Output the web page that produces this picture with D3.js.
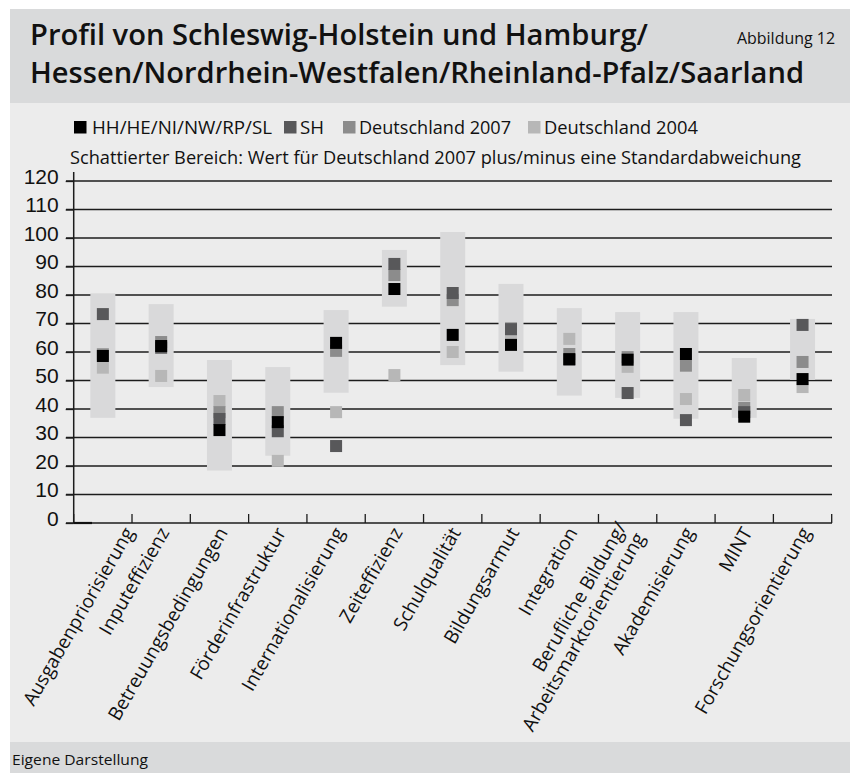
<!DOCTYPE html>
<html lang="de">
<head>
    <meta charset="UTF-8">
    <title>Profil von Schleswig-Holstein und Hamburg/Hessen/Nordrhein-Westfalen/Rheinland-Pfalz/Saarland</title>
    <script src="https://d3js.org/d3.v7.min.js"></script>
    <style>
        body { margin: 0; background: #fff; }
        svg { display: block; font-family: "Open Sans", "Noto Sans", sans-serif; }
        .grid line { stroke: #1c1c1c; stroke-width: 1.3; }
        .y-axis text { font-size: 21px; fill: #111; }
        .cat-label { font-size: 19px; fill: #111; }
    </style>
</head>
<body>
    <svg width="850" height="773"></svg>
    <script>
        // Kategorien (x-Achse)
        const categories = [
            "Ausgabenpriorisierung", "Inputeffizienz", "Betreuungsbedingungen",
            "Förderinfrastruktur", "Internationalisierung", "Zeiteffizienz",
            "Schulqualität", "Bildungsarmut", "Integration",
            "Berufliche Bildung/\nArbeitsmarktorientierung", "Akademisierung",
            "MINT", "Forschungsorientierung"
        ];

        // Werte je Reihe
        const hhValues   = [58.6, 62.1, 32.6, 35.4, 63.2, 82.1, 66.0, 62.5, 57.5, 57.3, 59.3, 37.3, 50.5];
        const shValues   = [73.3, 61.5, 36.5, 32.2, 27.0, 90.9, 80.7, 68.0, 57.3, 45.6, 36.1, 38.9, 69.5];
        const de2007     = [59.2, 63.5, 38.9, 38.9, 60.4, 87.0, 78.2, 68.3, 59.3, 58.2, 55.2, 40.4, 56.5];
        const de2004     = [54.5, 51.6, 42.8, 21.8, 38.9, 51.9, 60.0, 64.5, 64.6, 54.8, 43.5, 44.9, 47.7];

        // Schattierter Bereich: Deutschland 2007 +/- eine Standardabweichung
        const bandLow    = [36.9, 47.7, 18.4, 23.6, 45.7, 75.9, 55.4, 53.1, 44.7, 43.9, 36.6, 36.9, 50.2];
        const bandHigh   = [80.6, 76.8, 57.2, 54.7, 74.7, 95.8, 102.1, 83.9, 75.4, 74.0, 74.0, 57.9, 71.6];

        const yTicks = [0, 10, 20, 30, 40, 50, 60, 70, 80, 90, 100, 110, 120];

        const seriesNames  = ["HH/HE/NI/NW/RP/SL", "SH", "Deutschland 2007", "Deutschland 2004"];
        const seriesColors = ["#000000", "#58585a", "#8c8c8c", "#b7b7b7"];

        const svg = d3.select("svg");

        // Hintergrundflächen
        svg.append("rect").attr("x", 10).attr("y", 9).attr("width", 840).attr("height", 94).attr("fill", "#d9dadb");
        svg.append("rect").attr("x", 10).attr("y", 103).attr("width", 840).attr("height", 639).attr("fill", "#ececec");
        svg.append("rect").attr("x", 10).attr("y", 742).attr("width", 840).attr("height", 31).attr("fill", "#d9dadb");

        // Titel
        const title = svg.append("g").attr("font-weight", 600).attr("font-size", 28).attr("fill", "#111");
        title.append("text").attr("x", 30).attr("y", 45)
            .attr("textLength", 618).attr("lengthAdjust", "spacingAndGlyphs")
            .text("Profil von Schleswig-Holstein und Hamburg/");
        title.append("text").attr("x", 30).attr("y", 83)
            .attr("textLength", 774).attr("lengthAdjust", "spacingAndGlyphs")
            .text("Hessen/Nordrhein-Westfalen/Rheinland-Pfalz/Saarland");

        svg.append("text").attr("x", 835).attr("y", 44).attr("text-anchor", "end")
            .attr("font-size", 16).attr("fill", "#111")
            .attr("textLength", 98).attr("lengthAdjust", "spacingAndGlyphs")
            .text("Abbildung 12");

        // Legende
        const legendX = [74, 284, 343, 528];
        const legendW = [180, 24, 152, 154];
        const legend = svg.append("g").attr("font-size", 19).attr("fill", "#111");
        seriesNames.forEach((name, i) => {
            legend.append("rect")
                .attr("x", legendX[i]).attr("y", 121)
                .attr("width", 12.5).attr("height", 12.5)
                .attr("fill", seriesColors[i]);
            legend.append("text")
                .attr("x", legendX[i] + (i === 0 ? 18 : 16)).attr("y", 134)
                .attr("textLength", legendW[i]).attr("lengthAdjust", "spacingAndGlyphs")
                .text(name);
        });
        legend.append("text").attr("x", 70).attr("y", 164)
            .attr("textLength", 731).attr("lengthAdjust", "spacingAndGlyphs")
            .text("Schattierter Bereich: Wert für Deutschland 2007 plus/minus eine Standardabweichung");

        // Skalen
        const x = d3.scaleBand().domain(categories).range([73.7, 831.7]);
        const y = d3.scaleLinear().domain([0, 120]).range([523, 181]);

        // Gitternetz
        svg.append("g").attr("class", "grid")
            .selectAll("line").data(yTicks).join("line")
            .attr("x1", 66).attr("x2", 832)
            .attr("y1", d => y(d)).attr("y2", d => y(d));

        // y-Achse
        const yAxis = svg.append("g").attr("class", "y-axis")
            .attr("transform", "translate(73.7,0)")
            .call(d3.axisLeft(y).tickValues(yTicks).tickSize(8).tickPadding(7));
        yAxis.select(".domain").remove();
        yAxis.selectAll(".tick line").attr("stroke", "#1c1c1c").attr("stroke-width", 1.3);
        yAxis.selectAll(".tick text").attr("dy", "0.1em");
        svg.append("line").attr("x1", 73.7).attr("x2", 73.7)
            .attr("y1", 172).attr("y2", 523)
            .attr("stroke", "#1c1c1c").attr("stroke-width", 1.5);

        // x-Achse: Trennstriche zwischen den Kategorien
        const bounds = d3.range(categories.length + 1).map(i => x.range()[0] + i * x.step());
        svg.append("g").selectAll("line").data(bounds).join("line")
            .attr("x1", d => d).attr("x2", d => d)
            .attr("y1", 514).attr("y2", 523)
            .attr("stroke", "#1c1c1c").attr("stroke-width", 1.3);
        svg.append("line").attr("x1", 73.7).attr("x2", 92).attr("y1", 523).attr("y2", 523)
            .attr("stroke", "#111").attr("stroke-width", 2.2);

        // Bänder
        const bandW = 25;
        svg.append("g").selectAll("rect").data(categories).join("rect")
            .attr("x", d => x(d) + x.bandwidth() / 2 - bandW / 2)
            .attr("width", bandW)
            .attr("y", (d, i) => y(bandHigh[i]))
            .attr("height", (d, i) => y(bandLow[i]) - y(bandHigh[i]))
            .attr("fill", "#d9d9da");

        // Marker (Reihenfolge: 2004, 2007, SH, HH oben)
        const markerSize = 12;
        const drawOrder = [[de2004, 3], [de2007, 2], [shValues, 1], [hhValues, 0]];
        drawOrder.forEach(([values, ci]) => {
            svg.append("g").selectAll("rect").data(categories).join("rect")
                .attr("x", d => x(d) + x.bandwidth() / 2 - markerSize / 2)
                .attr("y", (d, i) => y(values[i]) - markerSize / 2)
                .attr("width", markerSize).attr("height", markerSize)
                .attr("fill", seriesColors[ci]);
        });

        // Kategorienbeschriftung (um -60° gedreht, links nicht über den Rand)
        const lh = 21;
        const labels = svg.append("g").selectAll("text").data(categories).join("text")
            .attr("class", "cat-label")
            .attr("text-anchor", "end");
        labels.each(function(d) {
            const lines = d.split("\n");
            const t = d3.select(this);
            lines.forEach((line, j) => {
                t.append("tspan")
                    .attr("x", 0)
                    .attr("y", (j - (lines.length - 1) / 2) * lh)
                    .attr("dy", "0.35em")
                    .text(line);
            });
            const len = d3.max(t.selectAll("tspan").nodes(), n => n.getComputedTextLength());
            let ax = x(d) + x.bandwidth() / 2 + 3;
            const left = ax - len * 0.5 - 8;
            if (left < 20) ax += 20 - left;
            t.attr("transform", `translate(${ax},529) rotate(-60)`);
        });

        // Quelle
        svg.append("text").attr("x", 12).attr("y", 765)
            .attr("font-size", 15).attr("fill", "#111")
            .attr("textLength", 136).attr("lengthAdjust", "spacingAndGlyphs")
            .text("Eigene Darstellung");
    </script>
</body>
</html>
